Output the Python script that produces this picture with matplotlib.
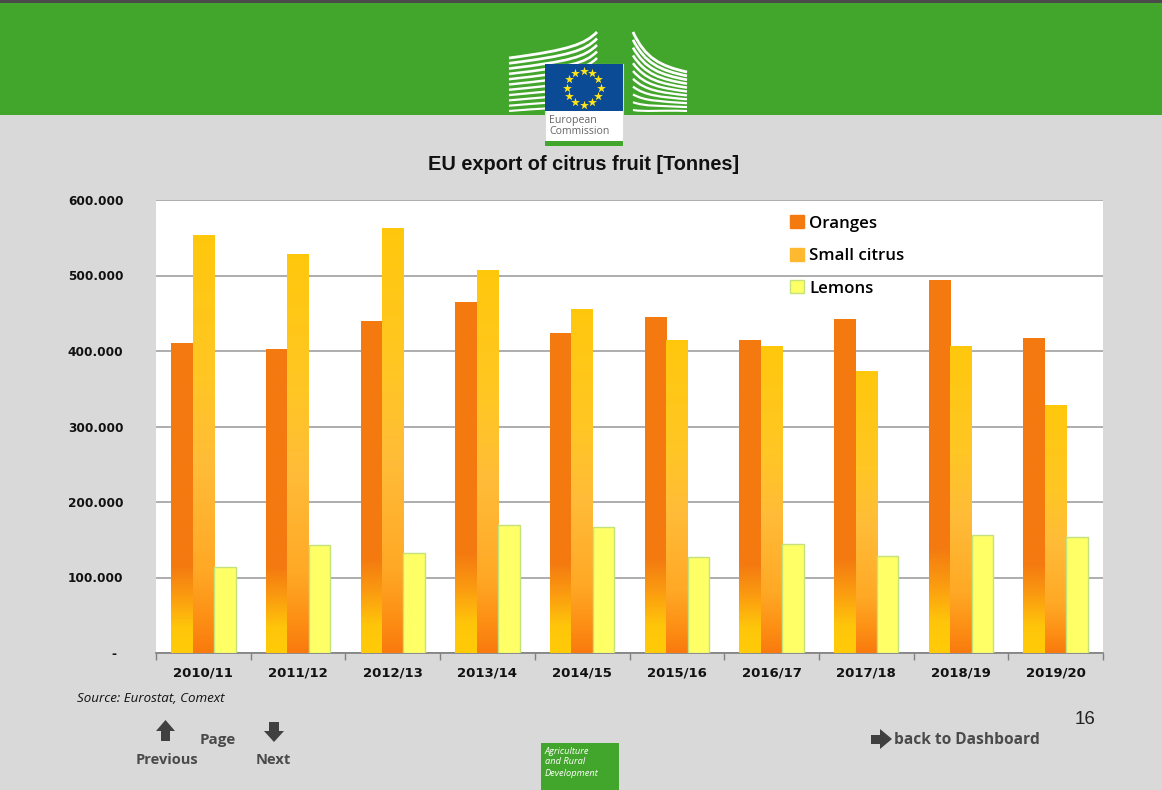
import numpy as np
import matplotlib
matplotlib.use('Agg')
import matplotlib.pyplot as plt
from matplotlib.colors import LinearSegmentedColormap
from matplotlib.patches import Rectangle, Polygon, PathPatch
from matplotlib.path import Path
from matplotlib.transforms import ScaledTranslation

# --- DATA ---
seasons = ['2010/11', '2011/12', '2012/13', '2013/14', '2014/15',
           '2015/16', '2016/17', '2017/18', '2018/19', '2019/20']
oranges = [410000, 402000, 440000, 465000, 424000, 445000, 415000, 443000, 494000, 417000]
small_citrus = [553000, 529000, 563000, 507000, 455000, 415000, 407000, 373000, 407000, 328000]
lemons = [114000, 143000, 132000, 169000, 167000, 127000, 145000, 128000, 156000, 153000]
y_ticks = [0, 100000, 200000, 300000, 400000, 500000, 600000]
y_labels = ['-', '100.000', '200.000', '300.000', '400.000', '500.000', '600.000']

GREEN = '#43a62c'
GREY = '#d9d9d9'
DARK = '#404040'

cmap_orange = LinearSegmentedColormap.from_list('o', [(0, '#ffcb08'), (0.08, '#ffc60a'), (0.18, '#fb9c10'),
                                                      (0.28, '#f47a10'), (1, '#f47a10')])
cmap_small = LinearSegmentedColormap.from_list('s', [(0, '#f97a0e'), (0.08, '#fd8f14'), (0.2, '#ffa926'),
                                                     (0.45, '#ffbc38'), (0.65, '#ffc625'), (1, '#ffc80c')])

fig = plt.figure(figsize=(11.62, 7.9), dpi=100, facecolor=GREY)
ax = fig.add_axes([156 / 1162, (790 - 653) / 790, 947 / 1162, 453 / 790], facecolor='white')

x = np.arange(len(seasons))
w = 0.227
grad = np.linspace(1, 0, 256).reshape(-1, 1)


def gradient_bars(xs, vals, cmap):
    bars = ax.bar(xs, vals, w, color='none', zorder=3)
    for b in bars:
        im = ax.imshow(grad, cmap=cmap, aspect='auto', zorder=3, vmin=0, vmax=1,
                       extent=(b.get_x(), b.get_x() + w, 0, b.get_height()))
        im.set_clip_path(b)


gradient_bars(x - w, oranges, cmap_orange)
gradient_bars(x, small_citrus, cmap_small)
ax.bar(x + w, lemons, w, color='#ffff66', edgecolor='#c4e27c', linewidth=1, zorder=3)

ax.set_xlim(-0.5, 9.5)
ax.set_ylim(0, 600000)
ax.set_yticks(y_ticks)
ax.set_yticklabels(y_labels, fontfamily='DejaVu Sans', fontweight='bold', fontsize=8.7, color='#111111')
ax.set_xticks(x)
ax.set_xticklabels(seasons, fontfamily='DejaVu Sans', fontweight='bold', fontsize=9.5, color='#111111')
ax.set_xticks(np.arange(-0.5, 10, 1), minor=True)
ax.tick_params(axis='x', which='major', length=0, pad=10)
ax.tick_params(axis='x', which='minor', length=5, color='#808080', width=1)
ax.tick_params(axis='y', length=0, pad=23.5)
zero_lab = ax.get_yticklabels()[0]
zero_lab.set_transform(zero_lab.get_transform() + ScaledTranslation(-7 / 100, 0, fig.dpi_scale_trans))
ax.grid(axis='y', color='#a0a0a0', linewidth=1.2, zorder=1)
ax.set_axisbelow(True)
for s in ['top', 'right', 'left']:
    ax.spines[s].set_visible(False)
ax.spines['bottom'].set_color('#808080')
ax.spines['bottom'].set_linewidth(1.2)

handles = [Rectangle((0, 0), 1, 1, color='#f47a10'),
           Rectangle((0, 0), 1, 1, color='#ffb92e'),
           Rectangle((0, 0), 1, 1, facecolor='#ffff66', edgecolor='#c4e27c')]
ax.legend(handles, ['Oranges', 'Small citrus', 'Lemons'], loc='upper left',
          bbox_to_anchor=(0.6555, 0.996), frameon=False, handlelength=0.8, handleheight=0.8,
          handletextpad=0.3, labelspacing=0.95, borderpad=0.3,
          prop={'family': 'Open Sans', 'weight': 'semibold', 'size': 12.2})

# page furniture in pixel coordinates
pg = fig.add_axes([0, 0, 1, 1], facecolor='none', zorder=5)
pg.set_xlim(0, 1162)
pg.set_ylim(790, 0)
pg.axis('off')

pg.add_patch(Rectangle((0, 0), 1162, 3, color='#4a4a4a', lw=0))
pg.add_patch(Rectangle((0, 3), 1162, 112, color=GREEN, lw=0))

# logo building strips
for i in range(11):
    yl = 58 + i * 5.3
    yr = 32 + i * 6.5
    verts = [(509, yl), (570, yl - 8 + 0.3 * i), (585, yr + 12), (597, yr)]
    pg.add_patch(PathPatch(Path(verts, [Path.MOVETO, Path.CURVE4, Path.CURVE4, Path.CURVE4]),
                           fc='none', ec='white', lw=2.0 - i * 0.05, capstyle='butt'))
for i in range(11):
    yl = 32 + i * 7.8
    yr = 72 + i * 3.9
    verts = [(633, yl), (645, yl + 26 - i * 2.4), (660, yr - 6 + i * 0.5), (687, yr)]
    pg.add_patch(PathPatch(Path(verts, [Path.MOVETO, Path.CURVE4, Path.CURVE4, Path.CURVE4]),
                           fc='none', ec='white', lw=2.0 - i * 0.05, capstyle='butt'))

pg.add_patch(Rectangle((545, 64), 77.5, 81, fc='white', ec='#cfe3cf', lw=0.8, zorder=4))
pg.add_patch(Rectangle((545, 64), 77.5, 47, color='#0b4a94', lw=0, zorder=4))
pg.add_patch(Rectangle((545, 141), 77.5, 4.5, color=GREEN, lw=0, zorder=4))
ang = np.deg2rad(np.arange(0, 360, 30))
pg.scatter(583.5 + 17 * np.sin(ang), 87.5 - 17 * np.cos(ang), marker='*', s=45,
           color='#ffe619', lw=0, zorder=5)
pg.text(549, 120.5, 'European', fontsize=7.6, family='Open Sans', color='#666666', va='center', zorder=5)
pg.text(549, 132, 'Commission', fontsize=7.6, family='Open Sans', color='#666666', va='center', zorder=5)

pg.text(584, 165, 'EU export of citrus fruit [Tonnes]', ha='center', va='center',
        family='Liberation Sans', fontweight='bold', fontsize=14.4, color='#111111')
pg.text(77, 698, 'Source: Eurostat, Comext', ha='left', va='center', family='Open Sans',
        style='italic', fontsize=9.6, color='#111111')
pg.text(1085, 719, '16', ha='center', va='center', family='Liberation Sans', fontsize=13.5, color='#222222')

# navigation arrows and labels
pg.add_patch(Polygon([(165.5, 720), (175, 731), (170, 731), (170, 741), (161, 741), (161, 731), (156, 731)],
                     color=DARK, lw=0))
pg.add_patch(Polygon([(274, 742), (264, 731), (269, 731), (269, 722), (279, 722), (279, 731), (284, 731)],
                     color=DARK, lw=0))
pg.add_patch(Polygon([(871, 735), (880, 735), (880, 729), (892, 739), (880, 749), (880, 744), (871, 744)],
                     color=DARK, lw=0))
nav_font = {'family': 'Open Sans', 'fontweight': 'bold', 'color': '#4a4a4a', 'va': 'center'}
pg.text(136, 760, 'Previous', fontsize=10.5, **nav_font)
pg.text(200, 740, 'Page', fontsize=11, **nav_font)
pg.text(256, 760, 'Next', fontsize=10.5, **nav_font)
pg.text(894, 740, 'back to Dashboard', fontsize=11.2, **nav_font)

pg.add_patch(Rectangle((540.5, 743), 78, 47, color=GREEN, lw=0))
for yy, t in zip([751, 762, 773], ['Agriculture', 'and Rural', 'Development']):
    pg.text(545, yy, t, family='Open Sans', style='italic', fontsize=6.7, color='white', va='center')

fig.savefig('out.png', dpi=100, facecolor=GREY)
